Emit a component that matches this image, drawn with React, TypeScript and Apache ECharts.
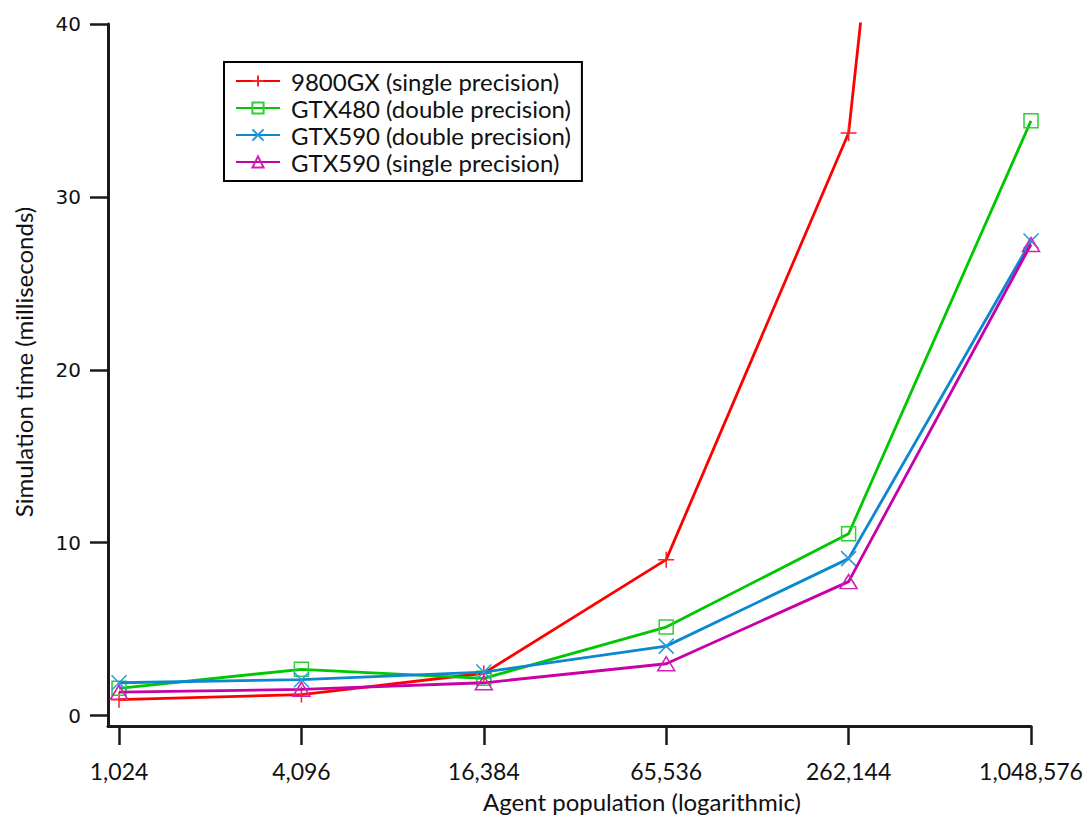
import React, { useEffect, useRef } from "react";
import * as echarts from "echarts";

const populations = [1024, 4096, 16384, 65536, 262144, 1048576];
const seriesNames = [
  "9800GX (single precision)",
  "GTX480 (double precision)",
  "GTX590 (double precision)",
  "GTX590 (single precision)",
];
const gx9800Single = [0.92, 1.22, 2.45, 9.02, 33.7, 131];
const gtx480Double = [1.58, 2.68, 2.16, 5.12, 10.52, 34.4];
const gtx590Double = [1.9, 2.08, 2.52, 4.02, 9.08, 27.45];
const gtx590Single = [1.36, 1.52, 1.9, 3.0, 7.75, 27.25];
const yTicks = [0, 10, 20, 30, 40];

const lineColors = ["#ff0000", "#00c800", "#0a88d0", "#c800a8"];
const markerColors = ["#ff2020", "#33cc33", "#2a98dd", "#cc22b4"];
const symbols = [
  "path://M10,0V20M0,10H20",
  "path://M0,0H20V20H0Z",
  "path://M0,0L20,20M0,20L20,0",
  "path://M10,0L20,17L0,17Z",
];
const symbolSizes: any[] = [16, 14, 15, [17, 14]];

export default function App() {
  const ref = useRef<HTMLDivElement>(null);
  useEffect(() => {
    const chart = echarts.init(ref.current!, null, { renderer: "svg" });
    const xs = populations.map((p) => Math.log2(p));
    const allData = [gx9800Single, gtx480Double, gtx590Double, gtx590Single];
    const xTicks = xs;
    chart.setOption({
      animation: false,
      backgroundColor: "#ffffff",
      grid: {
        left: 108,
        right: 61,
        top: 24,
        bottom: 93,
        containLabel: false,
        outerBoundsMode: "none",
      },
      legend: {
        orient: "vertical",
        left: 224,
        top: 62,
        padding: [7, 11, 7, 11],
        itemGap: 3,
        itemWidth: 44,
        itemHeight: 14,
        borderColor: "#000",
        borderWidth: 2,
        borderRadius: 0,
        textStyle: {
          fontFamily: "Lato",
          fontSize: 24,
          lineHeight: 24,
          color: "#111",
          padding: [0, 0, 0, 6],
        },
        data: seriesNames,
      },
      xAxis: {
        type: "value",
        min: 9.879,
        max: 20,
        splitLine: { show: false },
        axisLine: { onZero: false, lineStyle: { color: "#1a1a1a", width: 3 } },
        axisTick: {
          customValues: xTicks,
          length: 19,
          lineStyle: { color: "#1a1a1a", width: 2.5 },
        },
        axisLabel: {
          customValues: xTicks,
          margin: 33,
          showMinLabel: true,
          showMaxLabel: true,
          hideOverlap: false,
          fontFamily: "Lato",
          fontSize: 23,
          color: "#111",
          formatter: (v: number) =>
            Math.round(Math.pow(2, v)).toLocaleString("en-US"),
        },
      },
      yAxis: {
        type: "value",
        min: -0.6,
        max: 40,
        splitLine: { show: false },
        axisLine: { onZero: false, lineStyle: { color: "#1a1a1a", width: 3 } },
        axisTick: {
          customValues: yTicks,
          length: 18,
          lineStyle: { color: "#1a1a1a", width: 2.5 },
        },
        axisLabel: {
          customValues: yTicks,
          margin: 27,
          fontFamily: "DejaVu Sans",
          fontSize: 20,
          color: "#111",
        },
      },
      graphic: [
        {
          type: "text",
          x: 642,
          y: 801,
          style: {
            text: "Agent population (logarithmic)",
            fontFamily: "Lato",
            fontSize: 24,
            fill: "#111",
            align: "center",
            verticalAlign: "middle",
          },
        },
        {
          type: "text",
          x: 23,
          y: 362,
          rotation: Math.PI / 2,
          style: {
            text: "Simulation time (milliseconds)",
            fontFamily: "Lato",
            fontSize: 24,
            fill: "#111",
            align: "center",
            verticalAlign: "middle",
          },
        },
      ],
      series: allData.map((d, i) => ({
        name: seriesNames[i],
        type: "line",
        clip: true,
        data: d.map((v, j) => [xs[j], v]),
        symbol: symbols[i],
        symbolSize: symbolSizes[i],
        showAllSymbol: true,
        lineStyle: { color: lineColors[i], width: 2.8 },
        itemStyle: {
          color: "rgba(0,0,0,0)",
          borderColor: markerColors[i],
          borderWidth: 1.5,
        },
        z: 2 + i,
      })),
    });
    return () => chart.dispose();
  }, []);
  return (
    <div
      ref={ref}
      style={{ position: "fixed", left: 0, top: 0, width: 1092, height: 819 }}
    />
  );
}
